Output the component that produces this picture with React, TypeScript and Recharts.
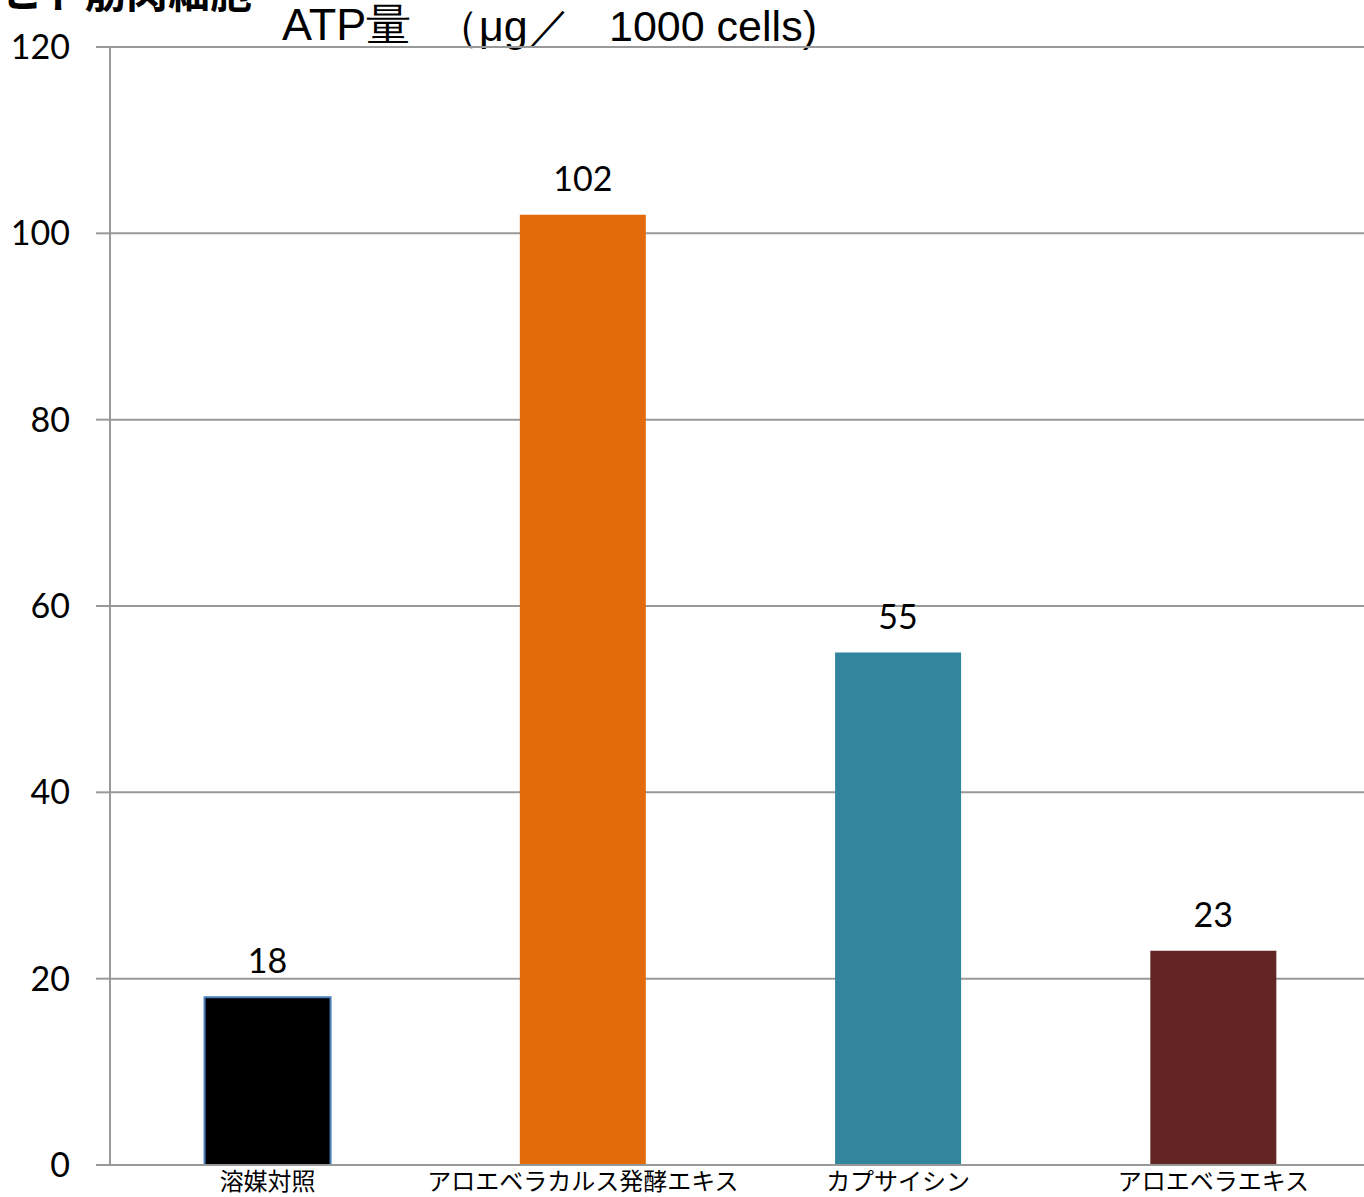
import React from 'react'
import { BarChart, Bar, XAxis, YAxis, CartesianGrid, Cell, LabelList } from 'recharts'

const categories = ['溶媒対照', 'アロエベラカルス発酵エキス', 'カプサイシン', 'アロエベラエキス']
const atpValues = [18, 102, 55, 23]
const barColors = ['#000000', '#E36C0A', '#31859C', '#632523']
const barStrokes = ['#4A7EBB', 'none', 'none', 'none']
const yTicks = [0, 20, 40, 60, 80, 100, 120]

const data = categories.map((name, i) => ({ name, value: atpValues[i] }))

const titleFont = {
  position: 'absolute' as const,
  top: 3,
  fontFamily: '"Liberation Sans", Arial, sans-serif',
  fontSize: 43,
  lineHeight: '46px',
  whiteSpace: 'pre' as const,
  color: '#000',
}

export default function App() {
  return (
    <div
      style={{
        position: 'absolute',
        left: 0,
        top: 0,
        width: 1364,
        height: 1197,
        overflow: 'hidden',
        background: '#fff',
      }}
    >
      <div
        style={{
          position: 'absolute',
          left: 0,
          top: -41,
          fontFamily: '"Noto Sans CJK JP"',
          fontWeight: 700,
          fontSize: 42,
          whiteSpace: 'nowrap',
          color: '#000',
        }}
      >
        ヒト筋肉細胞
      </div>
      <div style={{ ...titleFont, left: 282, fontSize: 45, top: 2 }}>ATP量</div>
      <div style={{ ...titleFont, left: 436 }}>（μg／</div>
      <div style={{ ...titleFont, left: 609 }}>1000 cells)</div>
      <div style={{ position: 'absolute', left: 0, top: 0 }}>
        <BarChart
          width={1380}
          height={1197}
          data={data}
          margin={{ top: 47, right: 9, left: 0, bottom: 0 }}
          barCategoryGap="30%"
        >
          <CartesianGrid vertical={false} stroke="#999999" strokeWidth={2} />
          <XAxis
            dataKey="name"
            height={32}
            axisLine={{ stroke: '#999999', strokeWidth: 2 }}
            tickLine={false}
            tickMargin={2}
            interval={0}
            tick={{ fill: '#000', fontSize: 24, fontFamily: '"Noto Sans CJK JP"' }}
          />
          <YAxis
            width={110}
            domain={[0, 120]}
            ticks={yTicks}
            axisLine={{ stroke: '#999999', strokeWidth: 2 }}
            tickLine={{ stroke: '#999999', strokeWidth: 2 }}
            tickSize={14}
            tickMargin={26}
            tick={{ fill: '#000', fontSize: 34, fontFamily: 'Lato, "Open Sans", sans-serif' }}
          />
          <Bar dataKey="value" isAnimationActive={false}>
            {data.map((d, i) => (
              <Cell key={d.name} fill={barColors[i]} stroke={barStrokes[i]} strokeWidth={2} />
            ))}
            <LabelList
              dataKey="value"
              position="top"
              offset={24}
              style={{ fill: '#000', fontSize: 34, fontFamily: 'Lato, "Open Sans", sans-serif' }}
            />
          </Bar>
        </BarChart>
      </div>
    </div>
  )
}
